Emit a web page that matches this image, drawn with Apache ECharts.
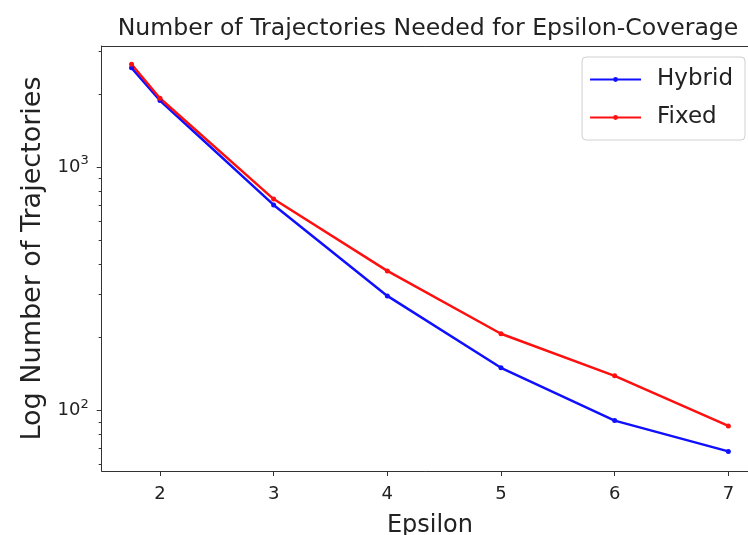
<!DOCTYPE html>
<html>
<head>
<meta charset="utf-8">
<script src="https://cdn.jsdelivr.net/npm/echarts@6/dist/echarts.min.js"></script>
<style>
html,body{margin:0;padding:0;background:#fff;overflow:hidden;}
#chart{width:748px;height:535px;}
</style>
</head>
<body>
<div id="chart"></div>
<script>
const epsilon = [1.75, 2, 3, 4, 5, 6, 7];
const hybrid = [2560, 1880, 700, 296, 150, 91, 68];
const fixed = [2650, 1921, 740, 375, 207, 139, 86.5];
const xTicks = [2, 3, 4, 5, 6, 7];
const yMajorTicks = [100, 1000];
const yMinorTicks = [60, 70, 80, 90, 200, 300, 400, 500, 600, 700, 800, 900, 2000, 3000];

const FONT = 'DejaVu Sans';
const AX = '#333';
const chart = echarts.init(document.getElementById('chart'), null, {renderer: 'canvas'});

function pairs(xs, ys) { return xs.map((x, i) => [x, ys[i]]); }

const option = {
  animation: false,
  backgroundColor: '#fff',
  title: {
    text: 'Number of Trajectories Needed for Epsilon-Coverage',
    left: 423, top: 12, textAlign: 'center',
    textStyle: {fontFamily: FONT, fontSize: 23.6, fontWeight: 'normal', color: '#222'}
  },
  legend: {
    right: 3, top: 57, orient: 'vertical', align: 'left',
    itemWidth: 51, itemHeight: 6, itemGap: 15,
    padding: [11, 12, 11, 7],
    borderColor: '#d0d0d0', borderWidth: 1, borderRadius: 4,
    backgroundColor: 'rgba(255,255,255,0.8)',
    textStyle: {fontFamily: FONT, fontSize: 23, color: '#222', padding: [0, 0, 0, 11]},
    data: ['Hybrid', 'Fixed']
  },
  grid: {
    left: 101.7, top: 46, width: 656.5, height: 425,
    outerBoundsMode: 'none', show: false, containLabel: false
  },
  xAxis: [{
    type: 'value', min: 1.4875, max: 7.2625, position: 'bottom',
    name: 'Epsilon', nameLocation: 'middle', nameGap: 43,
    nameTextStyle: {fontFamily: FONT, fontSize: 24, color: '#222'},
    axisLine: {show: true, lineStyle: {color: AX, width: 1}},
    axisTick: {show: true, length: 5, lineStyle: {color: AX}, customValues: xTicks},
    axisLabel: {fontFamily: FONT, fontSize: 18, color: '#222', margin: 14, customValues: xTicks},
    splitLine: {show: false}
  }, {
    type: 'value', min: 1.4875, max: 7.2625, position: 'top',
    axisLine: {show: true, lineStyle: {color: AX, width: 1}},
    axisTick: {show: false}, axisLabel: {show: false}, splitLine: {show: false}
  }],
  yAxis: [{
    type: 'log', min: 56.5, max: 3148, logBase: 10, position: 'left',
    name: 'Log Number of Trajectories', nameLocation: 'middle', nameGap: 55, nameRotate: 90,
    nameTextStyle: {fontFamily: FONT, fontSize: 27, color: '#222'},
    axisLine: {show: true, lineStyle: {color: AX, width: 1}},
    axisTick: {show: true, length: 5, lineStyle: {color: AX}, customValues: yMajorTicks},
    axisLabel: {
      customValues: yMajorTicks, margin: 13,
      formatter: function (v) { return '{a|10}{b|' + Math.round(Math.log10(v)) + '}'; },
      rich: {
        a: {fontFamily: FONT, fontSize: 18, color: '#222'},
        b: {fontFamily: FONT, fontSize: 13, color: '#222', padding: [0, 0, 13, 0]}
      }
    },
    splitLine: {show: false}
  }, {
    type: 'log', min: 56.5, max: 3148, logBase: 10, position: 'left', offset: 0,
    axisLine: {show: false},
    axisTick: {show: true, length: 3, lineStyle: {color: AX}, customValues: yMinorTicks},
    axisLabel: {show: false},
    splitLine: {show: false}
  }],
  series: [{
    name: 'Hybrid', type: 'line', xAxisIndex: 0, yAxisIndex: 0,
    data: pairs(epsilon, hybrid),
    symbol: 'circle', symbolSize: 5, showSymbol: true,
    lineStyle: {color: '#1010ff', width: 2.5},
    itemStyle: {color: '#1010ff'}
  }, {
    name: 'Fixed', type: 'line', xAxisIndex: 0, yAxisIndex: 0,
    data: pairs(epsilon, fixed),
    symbol: 'circle', symbolSize: 5, showSymbol: true,
    lineStyle: {color: '#ff1010', width: 2.5},
    itemStyle: {color: '#ff1010'}
  }]
};
chart.setOption(option);
</script>
</body>
</html>
